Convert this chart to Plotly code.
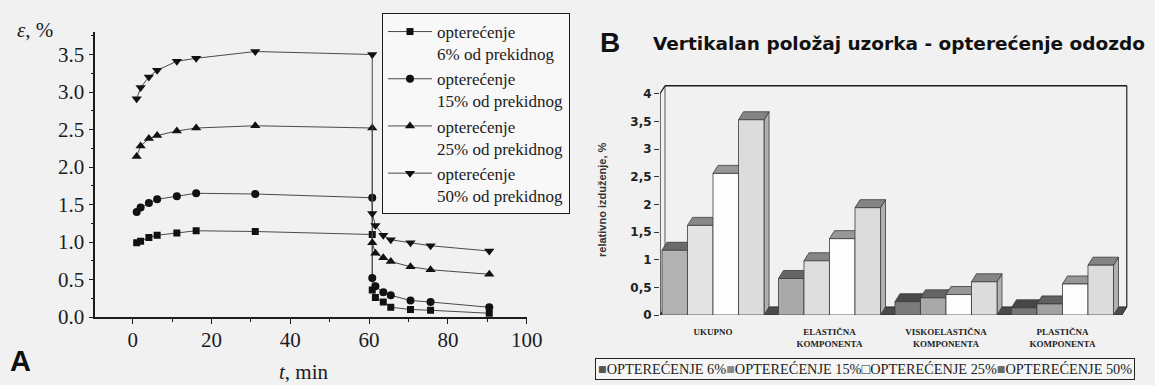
import plotly.graph_objects as go

# ---------------- data: panel A (creep / recovery curves) ----------------
t_min = [1.0, 2.0, 4.1, 6.2, 11.2, 16.1, 31.1, 60.8, 60.8, 61.6, 63.6, 65.5, 70.5, 75.6, 90.5]
eps_6 = [0.99, 1.01, 1.06, 1.09, 1.12, 1.15, 1.14, 1.10, 0.36, 0.26, 0.20, 0.13, 0.10, 0.09, 0.05]
eps_15 = [1.40, 1.46, 1.52, 1.57, 1.61, 1.65, 1.64, 1.59, 0.52, 0.41, 0.33, 0.29, 0.22, 0.20, 0.13]
eps_25 = [2.14, 2.28, 2.38, 2.42, 2.48, 2.52, 2.55, 2.52, 0.99, 0.85, 0.79, 0.74, 0.67, 0.63, 0.57]
eps_50 = [2.91, 3.06, 3.20, 3.29, 3.41, 3.45, 3.54, 3.50, 1.38, 1.22, 1.09, 1.03, 0.99, 0.95, 0.88]
names_a = ["opterećenje<br>6% od prekidnog", "opterećenje<br>15% od prekidnog",
           "opterećenje<br>25% od prekidnog", "opterećenje<br>50% od prekidnog"]
x_ticks_a = [0, 20, 40, 60, 80, 100]
y_ticks_a = [0.0, 0.5, 1.0, 1.5, 2.0, 2.5, 3.0, 3.5]

# ---------------- data: panel B (3D column chart) ----------------
categories = ["UKUPNO", "ELASTIČNA<br>KOMPONENTA", "VISKOELASTIČNA<br>KOMPONENTA", "PLASTIČNA<br>KOMPONENTA"]
b_6 = [1.17, 0.66, 0.24, 0.13]
b_15 = [1.62, 0.98, 0.31, 0.20]
b_25 = [2.56, 1.38, 0.37, 0.56]
b_50 = [3.53, 1.94, 0.60, 0.90]
legend_b = ["OPTEREĆENJE 6%", "OPTEREĆENJE 15%", "OPTEREĆENJE 25%", "OPTEREĆENJE 50%"]
y_ticks_b = [0, 0.5, 1, 1.5, 2, 2.5, 3, 3.5, 4]

# ---------------- styles ----------------
W_PX, H_PX = 1155, 385
BG = "#f1f1f1"
INK = "#1c1c1c"
SERIF = "Liberation Serif"
SANS = "Liberation Sans"
WIDE_SANS = "DejaVu Sans"

# panel B geometry (in data units of x2 / y2)
BAR_W = 0.219          # front-face width of one column
DX, DY = 0.043, 0.145  # 3D depth offset
XL, XR = -0.455, 3.51  # front plane x extent
Y_TOP = 4.0

front_cols = [
    ["#b2b2b2", "#a9a9a9", "#7b7b7b", "#777777"],   # 6 %
    ["#e4e4e4", "#dedede", "#a9a9a9", "#a2a2a2"],   # 15 %
    ["#fdfdfd", "#fdfdfd", "#fdfdfd", "#fdfdfd"],   # 25 %
    ["#dcdcdc", "#dcdcdc", "#dcdcdc", "#dcdcdc"],   # 50 %
]


def shade(hex_col, f):
    h = hex_col.lstrip("#")
    r, g, b = (int(h[i:i + 2], 16) for i in (0, 2, 4))
    return "#%02x%02x%02x" % (int(r * f), int(g * f), int(b * f))


fig = go.Figure()

# ---- panel A traces ----
symbols = ["square", "circle", "triangle-up", "triangle-down"]
sizes = [7, 8, 9, 9]
for name, eps, sym, sz in zip(names_a, [eps_6, eps_15, eps_25, eps_50], symbols, sizes):
    fig.add_trace(go.Scatter(
        x=t_min, y=eps, mode="lines+markers", name=name,
        line=dict(color="#4a4a4a", width=1),
        marker=dict(symbol=sym, size=sz, color="#111111"),
        xaxis="x", yaxis="y", legend="legend", hoverinfo="skip"))

# ---- panel B: 3D columns built from the data arrays ----
for k, vals in enumerate([b_6, b_15, b_25, b_50]):
    for i, v in enumerate(vals):
        x0 = i - 2 * BAR_W + k * BAR_W
        x1 = x0 + BAR_W
        c = front_cols[k][i]
        faces = [
            ([x1, x1 + DX, x1 + DX, x1, x1], [0, DY, v + DY, v, 0], shade(c, 0.8)),
            ([x0, x1, x1 + DX, x0 + DX, x0], [v, v, v + DY, v + DY, v], shade(c, 0.6)),
            ([x0, x1, x1, x0, x0], [0, 0, v, v, 0], c),
        ]
        for xs, ys, col in faces:
            fig.add_trace(go.Scatter(
                x=xs, y=ys, mode="lines", fill="toself", fillcolor=col,
                line=dict(color="#3a3a3a", width=0.8),
                showlegend=False, hoverinfo="skip", xaxis="x2", yaxis="y2"))

# ---- panel B frame (floor + walls) ----
shapes = [
    dict(type="path", xref="x2", yref="y2", layer="below",
         path=f"M {XL},0 L {XR},0 L {XR + DX},{DY} L {XL + DX},{DY} Z",
         fillcolor="#4a4a4a", line=dict(color="#2a2a2a", width=1)),
    dict(type="line", xref="x2", yref="y2", x0=XL, y0=0, x1=XL, y1=Y_TOP,
         line=dict(color=INK, width=1.3)),
    dict(type="line", xref="x2", yref="y2", x0=XL + DX, y0=DY, x1=XL + DX, y1=Y_TOP + DY,
         line=dict(color="#555", width=1), layer="below"),
    dict(type="line", xref="x2", yref="y2", x0=XL, y0=Y_TOP, x1=XL + DX, y1=Y_TOP + DY,
         line=dict(color=INK, width=1.3)),
    dict(type="line", xref="x2", yref="y2", x0=XL + DX, y0=Y_TOP + DY, x1=XR + DX, y1=Y_TOP + DY,
         line=dict(color=INK, width=1.5)),
    dict(type="line", xref="x2", yref="y2", x0=XR + DX, y0=DY, x1=XR + DX, y1=Y_TOP + DY,
         line=dict(color=INK, width=1.3)),
]


def px_x(p):
    return p / W_PX


def px_y(p):
    return 1 - p / H_PX


sq = '<span style="color:%s">■</span>'
legend_b_text = (sq % "#555555") + legend_b[0] + (sq % "#8a8a8a") + legend_b[1] + \
    '<span style="color:#222">□</span>' + legend_b[2] + (sq % "#6a6a6a") + legend_b[3]


def label(text, x, y, font, xanchor="center", **kw):
    return dict(text=text, x=px_x(x), y=px_y(y), xref="paper", yref="paper",
                xanchor=xanchor, yanchor="middle", showarrow=False, font=font, **kw)


annotations = [
    label("<i>ε</i>, %", 35, 30, dict(family=SERIF, size=21, color=INK)),
    label("<i>t</i>, min", 304, 372, dict(family=SERIF, size=21, color=INK)),
    label("A", 20, 361, dict(family=SANS, size=29, color="#111", weight="bold")),
    label("B", 610, 42, dict(family=SANS, size=28, color="#111", weight="bold")),
    label("Vertikalan položaj uzorka - opterećenje odozdo", 651, 43,
          dict(family=WIDE_SANS, size=18.5, color="#111", weight="bold"), xanchor="left"),
    label("relativno izduženje, %", 602, 200,
          dict(family=SANS, size=11, color="#333", weight="bold"), textangle=-90),
    label(legend_b_text, 595, 369, dict(family=SERIF, size=14.3, color="#222"), xanchor="left",
          bordercolor="#222", borderwidth=1, borderpad=2, bgcolor="#f6f6f6"),
]

axis_a = dict(showline=True, linecolor=INK, linewidth=1.5, ticks="outside", ticklen=5,
              tickwidth=1.2, tickcolor=INK, showgrid=False, zeroline=False, automargin=False,
              tickfont=dict(family=SERIF, size=21, color=INK))

fig.update_layout(
    width=W_PX, height=H_PX, margin=dict(l=0, r=0, t=0, b=0, autoexpand=False),
    paper_bgcolor=BG, plot_bgcolor="rgba(0,0,0,0)", showlegend=True,
    xaxis=dict(domain=[px_x(95.3), px_x(526.7)], range=[-9.5, 100], anchor="y",
               tickvals=x_ticks_a, ticklabelstandoff=-2,
               minor=dict(dtick=10, tick0=0, ticks="outside", ticklen=3, tickcolor=INK),
               **axis_a),
    yaxis=dict(domain=[px_y(317), px_y(32)], range=[0, 3.8], anchor="x",
               tickvals=y_ticks_a, ticktext=[f"{v:.1f}" for v in y_ticks_a],
               minor=dict(dtick=0.25, tick0=0, ticks="outside", ticklen=3, tickcolor=INK),
               **axis_a),
    xaxis2=dict(domain=[px_x(660), px_x(1127.7)], range=[-0.455, 3.56], anchor="y2",
                tickvals=[0, 1, 2, 3], ticktext=categories, ticks="outside", ticklen=8,
                tickcolor="rgba(0,0,0,0)", showline=False, showgrid=False, zeroline=False,
                automargin=False,
                tickfont=dict(family=SERIF, size=9, color="#222", weight="bold")),
    yaxis2=dict(domain=[px_y(315), px_y(82.7)], range=[0, 4.2], anchor="x2",
                tickvals=y_ticks_b, ticktext=[str(v).replace(".", ",") for v in y_ticks_b],
                ticks="outside", ticklen=5, tickcolor="#333", showline=False, showgrid=False,
                zeroline=False, automargin=False,
                tickfont=dict(family=WIDE_SANS, size=12, color="#222", weight="bold")),
    legend=dict(x=px_x(382), y=px_y(13), xanchor="left", yanchor="top",
                bgcolor="#f8f8f8", bordercolor=INK, borderwidth=1, itemwidth=44,
                valign="top", tracegroupgap=0,
                font=dict(family=SERIF, size=17, color=INK)),
    shapes=shapes, annotations=annotations,
)

fig.write_html("out.html")
